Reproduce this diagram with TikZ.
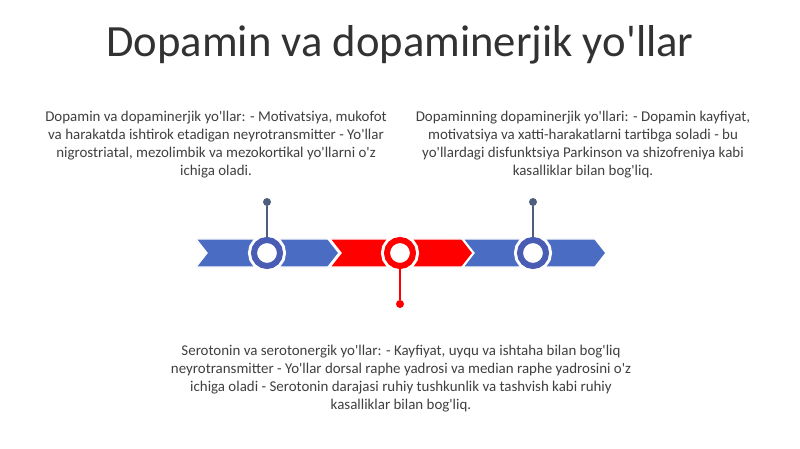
\documentclass[tikz,border=0pt]{standalone}
\usepackage{fontspec}
\setmainfont{Carlito}
\usetikzlibrary{positioning}
\definecolor{barblue}{HTML}{4A6CC2}
\definecolor{ringblue}{HTML}{4A5DB5}
\definecolor{pinblue}{HTML}{4F5E7E}
\definecolor{barred}{HTML}{FF0000}
\definecolor{textgray}{HTML}{3F3F3F}
\newcommand\ap{\textquotesingle}

% one chevron of the timeline bar, starting at x = #1
\newcommand\chevronbar[2]{%
  \fill[#2, draw=white, line width=1pt] (#1,239) -- (#1+132,239) -- (#1+143,253)
    -- (#1+132,267) -- (#1,267) -- (#1+11,253) -- cycle;}

\begin{document}
\begin{tikzpicture}[x=0.75pt, y=-0.75pt,
    ring/.style={circle, draw=#1, fill=white, line width=4.5pt, inner sep=0pt,
      minimum size=19.5pt, preaction={draw=white, line width=9pt}},
    pindot/.style={circle, fill=#1, inner sep=0pt, minimum size=6pt},
    infotext/.style={font=\fontsize{11.2}{13.5}\selectfont, text=textgray, align=center}]
  \useasboundingbox (0,0) rectangle (800,449);

  \node (title) at (400,45) [font=\fontsize{33.5}{40}\selectfont, text=textgray!80!black]
    {Dopamin va dopaminerjik yo\ap llar};

  % the bar
  \chevronbar{196}{barblue}
  \chevronbar{330}{barred}
  \chevronbar{463}{barblue}

  % milestones
  \node (ring1) at (267,253) [ring=ringblue] {};
  \node (ring2) at (400,253) [ring=barred] {};
  \node (ring3) at (533,253) [ring=ringblue] {};

  \node (dot1) at (267,202) [pindot=pinblue] {};
  \node (dot2) at (400,304) [pindot=barred] {};
  \node (dot3) at (533,202) [pindot=pinblue] {};

  \draw[pinblue, line width=1pt] (ring1) -- (dot1);
  \draw[barred, line width=1pt] (ring2) -- (dot2);
  \draw[pinblue, line width=1pt] (ring3) -- (dot3);

  % texts
  \node (text1) at (216,145) [infotext]
    {Dopamin va dopaminerjik yo\ap llar: - Motivatsiya, mukofot\\
     va harakatda ishtirok etadigan neyrotransmitter - Yo\ap llar\\
     nigrostriatal, mezolimbik va mezokortikal yo\ap llarni o\ap z\\
     ichiga oladi.};
  \node (text3) at (583,145) [infotext]
    {Dopaminning dopaminerjik yo\ap llari: - Dopamin kayfiyat,\\
     motivatsiya va xatti-harakatlarni tartibga soladi - bu\\
     yo\ap llardagi disfunktsiya Parkinson va shizofreniya kabi\\
     kasalliklar bilan bog\ap liq.};
  \node (text2) at (401,379) [infotext]
    {Serotonin va serotonergik yo\ap llar: - Kayfiyat, uyqu va ishtaha bilan bog\ap liq\\
     neyrotransmitter - Yo\ap llar dorsal raphe yadrosi va median raphe yadrosini o\ap z\\
     ichiga oladi - Serotonin darajasi ruhiy tushkunlik va tashvish kabi ruhiy\\
     kasalliklar bilan bog\ap liq.};
\end{tikzpicture}
\end{document}
